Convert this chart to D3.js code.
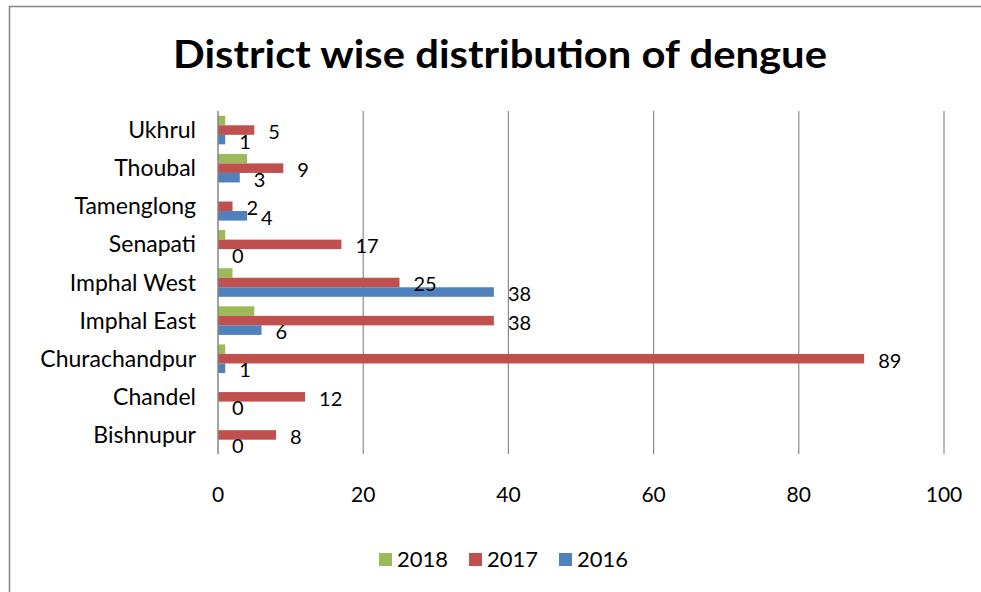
<!DOCTYPE html>
<html>
<head>
<meta charset="utf-8">
<script src="https://cdn.jsdelivr.net/npm/d3@7"></script>
<style>
  body { margin: 0; background: #fff; }
  svg { display: block; }
</style>
</head>
<body>
<div id="my_dataviz"></div>
<script>
// districts, top to bottom as drawn
const districts = ['Ukhrul', 'Thoubal', 'Tamenglong', 'Senapati', 'Imphal West', 'Imphal East', 'Churachandpur', 'Chandel', 'Bishnupur']
const years = ['2018', '2017', '2016']
const cases2018 = [1, 4, 0, 1, 2, 5, 1, 0, 0]
const cases2017 = [5, 9, 2, 17, 25, 38, 89, 12, 8]
const cases2016 = [1, 3, 4, 0, 38, 6, 1, 0, 0]
const xTicks = [0, 20, 40, 60, 80, 100]

const colors = { '2018': '#9BBB59', '2017': '#C0504D', '2016': '#4F81BD' }
const series = { '2018': cases2018, '2017': cases2017, '2016': cases2016 }

const width = 981,
  height = 592
const font = 'Lato, "Open Sans", sans-serif'

const svg = d3
  .select('#my_dataviz')
  .append('svg')
  .attr('width', width)
  .attr('height', height)

// chart frame (runs past right and bottom edge)
svg
  .append('rect')
  .attr('x', 9.5)
  .attr('y', 6.5)
  .attr('width', 1000)
  .attr('height', 700)
  .attr('fill', '#fff')
  .attr('stroke', '#868686')
  .attr('stroke-width', 1.5)

// title
svg
  .append('text')
  .attr('x', 500)
  .attr('y', 68)
  .attr('text-anchor', 'middle')
  .attr('font-family', font)
  .attr('font-weight', 'bold')
  .attr('font-size', 39)
  .attr('textLength', 654)
  .attr('lengthAdjust', 'spacingAndGlyphs')
  .text('District wise distribution of dengue')

const xScale = d3.scaleLinear().domain([0, 100]).range([218, 944])
const yScale = d3.scaleBand().domain(districts).range([111, 454])
const ySub = d3.scaleBand().domain(years).range([0, yScale.bandwidth()]).paddingOuter(0.5)

// gridlines
svg
  .append('g')
  .selectAll('line')
  .data(xTicks.slice(1))
  .join('line')
  .attr('x1', (d) => xScale(d))
  .attr('x2', (d) => xScale(d))
  .attr('y1', 111)
  .attr('y2', 454)
  .attr('stroke', '#8c8c8c')
  .attr('stroke-width', 1.2)

// bars
const groups = svg
  .append('g')
  .selectAll('g')
  .data(districts)
  .join('g')
  .attr('transform', (d) => `translate(0, ${yScale(d)})`)

years.forEach((yr) => {
  groups
    .append('rect')
    .attr('x', xScale(0))
    .attr('y', ySub(yr))
    .attr('width', (d, i) => xScale(series[yr][i]) - xScale(0))
    .attr('height', ySub.bandwidth())
    .attr('fill', colors[yr])
})

// vertical axis line
svg
  .append('line')
  .attr('x1', xScale(0))
  .attr('x2', xScale(0))
  .attr('y1', 111)
  .attr('y2', 454)
  .attr('stroke', '#868686')
  .attr('stroke-width', 1.5)

// data labels for 2017 and 2016
;['2017', '2016'].forEach((yr) => {
  groups
    .append('text')
    .attr('x', (d, i) => xScale(series[yr][i]) + 14)
    .attr('y', ySub(yr) + ySub.bandwidth() / 2 + 2)
    .attr('dy', '0.35em')
    .attr('font-family', font)
    .attr('font-size', 20)
    .attr('fill', '#000')
    .text((d, i) => series[yr][i])
})

// category labels
svg
  .append('g')
  .selectAll('text')
  .data(districts)
  .join('text')
  .attr('x', 196)
  .attr('y', (d) => yScale(d) + yScale.bandwidth() / 2)
  .attr('dy', '0.35em')
  .attr('text-anchor', 'end')
  .attr('font-family', font)
  .attr('font-size', 23)
  .text((d) => d)

// x tick labels
svg
  .append('g')
  .selectAll('text')
  .data(xTicks)
  .join('text')
  .attr('x', (d) => xScale(d))
  .attr('y', 495)
  .attr('dy', '0.35em')
  .attr('text-anchor', 'middle')
  .attr('font-family', font)
  .attr('font-size', 21)
  .text((d) => d)

// legend
const legendX = [379, 469, 559]
const legend = svg
  .append('g')
  .selectAll('g')
  .data(years)
  .join('g')
  .attr('transform', (d, i) => `translate(${legendX[i]}, 553)`)

legend.append('rect').attr('width', 13).attr('height', 13).attr('fill', (d) => colors[d])
legend
  .append('text')
  .attr('x', 18)
  .attr('y', 6.5)
  .attr('dy', '0.35em')
  .attr('font-family', font)
  .attr('font-size', 22)
  .text((d) => d)
</script>
</body>
</html>
